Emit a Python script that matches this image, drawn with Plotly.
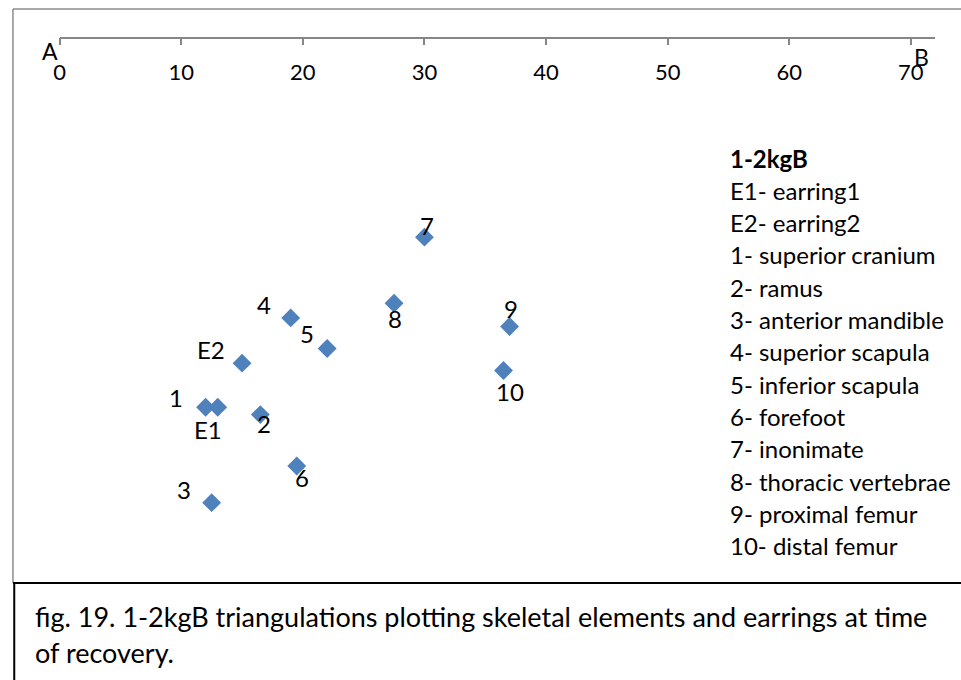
import plotly.graph_objects as go

# ---- data ----
labels = ["7", "8", "4", "5", "9", "10", "E2", "1", "E1", "2", "6", "3"]
x_vals = [30.0, 27.5, 19.0, 22.0, 37.0, 36.5, 15.0, 12.0, 13.0, 16.5, 19.5, 12.5]
y_vals = [16.3, 21.7, 22.9, 25.4, 23.6, 27.2, 26.6, 30.2, 30.2, 30.8, 35.0, 38.0]

ref_names = ["A", "B"]
ref_x = [0, 71]
ref_y = [0, 0]

x_ticks = [0, 10, 20, 30, 40, 50, 60, 70]

legend_title = "1-2kgB"
legend_lines = ["E1- earring1", "E2- earring2", "1- superior cranium", "2- ramus",
                "3- anterior mandible", "4- superior scapula", "5- inferior scapula",
                "6- forefoot", "7- inonimate", "8- thoracic vertebrae",
                "9- proximal femur", "10- distal femur"]

caption_lines = ["fig. 19. 1-2kgB triangulations plotting skeletal elements and earrings at time",
                 "of recovery."]

# ---- layout helpers ----
W, H = 961, 680
def px(x):
    return x / W
def py(y):
    return 1 - y / H

# data-label offsets in pixels (x right, y up)
label_offsets = {
    "7": (3, 12), "8": (1, -15), "4": (-27, 13), "5": (-20, 15), "9": (1, 18),
    "10": (7, -21), "E2": (-31, 14), "1": (-30, 10), "E1": (-10, -22),
    "2": (4, -9), "6": (5, -12), "3": (-28, 13),
}

FONT = "Lato, Carlito, Calibri, sans-serif"
BLUE = "#4F81BD"
AXIS_TOP = 37.7
PLOT_BOTTOM = 575
X0, X1 = 54, 935
scale = (X1 - X0) / 72.0
y_max = (PLOT_BOTTOM - AXIS_TOP) / scale

fig = go.Figure()
fig.add_trace(go.Scatter(
    x=x_vals, y=y_vals, mode="markers",
    marker=dict(symbol="diamond", size=14.5, color=BLUE, line=dict(width=0)),
    hoverinfo="skip", showlegend=False,
))

annotations = []
for lab, xv, yv in zip(labels, x_vals, y_vals):
    dx, dy = label_offsets[lab]
    annotations.append(dict(x=xv, y=yv, xref="x", yref="y", text=lab, showarrow=False,
                            xanchor="center", yanchor="middle", xshift=dx, yshift=dy,
                            font=dict(family=FONT, size=24, color="black")))

# reference points A and B labels
annotations.append(dict(x=ref_x[0], y=ref_y[0], xref="x", yref="y", text=ref_names[0],
                        showarrow=False, xanchor="right", yanchor="middle", xshift=0, yshift=-13,
                        font=dict(family=FONT, size=23, color="black")))
annotations.append(dict(x=ref_x[1], y=ref_y[1], xref="x", yref="y", text=ref_names[1],
                        showarrow=False, xanchor="center", yanchor="middle", xshift=-2, yshift=-19,
                        font=dict(family=FONT, size=23, color="black")))

# legend text box
LEG_X = 727
LEG_Y0 = 158
LEG_STEP = 32.3
annotations.append(dict(x=px(LEG_X), y=py(LEG_Y0), xref="paper", yref="paper",
                        text="<b>" + legend_title + "</b>", showarrow=False,
                        xanchor="left", yanchor="middle",
                        font=dict(family=FONT, size=24, color="black")))
for i, line in enumerate(legend_lines):
    annotations.append(dict(x=px(LEG_X), y=py(LEG_Y0 + (i + 1) * LEG_STEP), xref="paper", yref="paper",
                            text=line, showarrow=False, xanchor="left", yanchor="middle",
                            font=dict(family=FONT, size=24, color="black")))

# caption
for i, line in enumerate(caption_lines):
    annotations.append(dict(x=px(27), y=py(616 + i * 36), xref="paper", yref="paper",
                            text=line, showarrow=False, xanchor="left", yanchor="middle",
                            font=dict(family=FONT, size=27, color="black")))

shapes = [
    # chart area border (gray)
    dict(type="line", xref="paper", yref="paper", x0=px(7), x1=px(7), y0=py(9), y1=py(583),
         line=dict(color="#8C8C8C", width=1.5)),
    dict(type="line", xref="paper", yref="paper", x0=px(7), x1=1.02, y0=py(9), y1=py(9),
         line=dict(color="#8C8C8C", width=1.5)),
    # caption box (black)
    dict(type="line", xref="paper", yref="paper", x0=px(7), x1=1.02, y0=py(583), y1=py(583),
         line=dict(color="black", width=2)),
    dict(type="line", xref="paper", yref="paper", x0=px(8.3), x1=px(8.3), y0=py(583), y1=-0.02,
         line=dict(color="black", width=2)),
]

fig.update_layout(
    width=W, height=H,
    margin=dict(l=0, r=0, t=0, b=0),
    paper_bgcolor="white", plot_bgcolor="white",
    showlegend=False,
    xaxis=dict(
        domain=[px(X0), px(X1)], range=[0, 72],
        anchor="free", position=py(AXIS_TOP), side="bottom",
        showline=True, linecolor="#868686", linewidth=1.5,
        ticks="outside", ticklen=7, tickwidth=1.5, tickcolor="#868686",
        ticklabelstandoff=8,
        tickvals=x_ticks, ticktext=[str(t) for t in x_ticks],
        tickfont=dict(family=FONT, size=22, color="black"),
        showgrid=False, zeroline=False,
    ),
    yaxis=dict(
        domain=[py(PLOT_BOTTOM), py(AXIS_TOP)], range=[y_max, 0],
        visible=False, showgrid=False, zeroline=False,
    ),
    annotations=annotations,
    shapes=shapes,
)

fig.write_html("out.html")
